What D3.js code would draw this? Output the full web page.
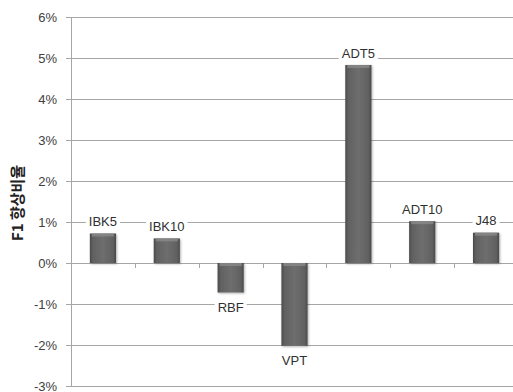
<!DOCTYPE html>
<html><head><meta charset="utf-8">
<script src="https://cdn.jsdelivr.net/npm/d3@7"></script>
<style>body{margin:0;background:#fff;}svg{display:block;}</style>
</head><body>
<svg id="c" width="513" height="392"></svg>
<script>
const categories = ["IBK5","IBK10","RBF","VPT","ADT5","ADT10","J48"];
const values = [0.72, 0.60, -0.72, -2.02, 4.83, 1.02, 0.74];
const yTicks = [-3,-2,-1,0,1,2,3,4,5,6];
const yTitle = "F1 향상비율";

const svg = d3.select("#c");
const mLeft = 71, mRight = 518, mTop = 17, mBottom = 386;
const x = d3.scaleBand().domain(categories).range([mLeft, mRight]).paddingInner(0.59).paddingOuter(0.295);
const y = d3.scaleLinear().domain([-3, 6]).range([mBottom, mTop]);
const font = "'Liberation Sans', Arial, sans-serif";

const defs = svg.append("defs");
const g1 = defs.append("linearGradient").attr("id","bar").attr("x1",0).attr("x2",1).attr("y1",0).attr("y2",0);
[[0,"#4a4a4a"],[0.12,"#616161"],[0.5,"#6e6e6e"],[0.88,"#616161"],[1,"#4a4a4a"]].forEach(([o,c])=>g1.append("stop").attr("offset",o).attr("stop-color",c));
const f = defs.append("filter").attr("id","sh").attr("x","-20%").attr("y","-20%").attr("width","140%").attr("height","140%");
f.append("feDropShadow").attr("dx",1).attr("dy",1).attr("stdDeviation",1).attr("flood-color","#000").attr("flood-opacity",0.3);

// gridlines
svg.append("g").selectAll("line").data(yTicks).join("line")
  .attr("x1", mLeft-5).attr("x2", 513).attr("y1", d=>y(d)+0.5).attr("y2", d=>y(d)+0.5)
  .attr("stroke", "#a6a6a6").attr("stroke-width", 1);

// y axis line
svg.append("line").attr("x1", mLeft+0.5).attr("x2", mLeft+0.5).attr("y1", mTop).attr("y2", mBottom)
  .attr("stroke", "#a6a6a6");

// y tick labels
svg.append("g").selectAll("text").data(yTicks).join("text")
  .attr("x", 57).attr("y", d=>y(d)).attr("dy","0.35em").attr("text-anchor","end")
  .attr("font-family", font).attr("font-size", 13).attr("fill", "#404040")
  .text(d=>d+"%");

// x tick marks on zero line
const bounds = categories.slice(1).map(c=> x(c) - x.step()*x.paddingInner()/2);
svg.append("g").selectAll("line").data(bounds).join("line")
  .attr("x1", d=>Math.round(d)+0.5).attr("x2", d=>Math.round(d)+0.5)
  .attr("y1", y(0)).attr("y2", y(0)+5).attr("stroke", "#a6a6a6");

// bars
const bars = svg.append("g").selectAll("g").data(categories).join("g");
bars.append("rect")
  .attr("x", c=>x(c)).attr("width", x.bandwidth())
  .attr("y", (c,i)=> y(Math.max(0, values[i])))
  .attr("height", (c,i)=> Math.abs(y(values[i]) - y(0)))
  .attr("fill", "url(#bar)").attr("filter","url(#sh)");
bars.append("rect")
  .attr("x", c=>x(c)+2).attr("width", x.bandwidth()-4)
  .attr("y", (c,i)=> y(Math.max(0, values[i])))
  .attr("height", 3).attr("fill", "#8a8a8a").attr("opacity", 0.8);

// data labels with white background
const labels = svg.append("g").selectAll("g").data(categories).join("g")
  .attr("transform", (c,i)=> `translate(${x(c)+x.bandwidth()/2},${values[i] >= 0 ? y(values[i]) - 12 : y(values[i]) + 15})`);
labels.append("text")
  .attr("text-anchor","middle").attr("dy","0.35em")
  .attr("font-family", font).attr("font-size", 13).attr("fill", "#303030")
  .text(c=>c)
  .each(function(){
    const b = this.getBBox();
    d3.select(this.parentNode).insert("rect","text")
      .attr("x", b.x-3).attr("y", b.y).attr("width", b.width+6).attr("height", b.height).attr("fill","#fff");
  });

// y title
svg.append("text").attr("transform", `translate(18,203) rotate(-90)`)
  .attr("text-anchor","middle").attr("dy","0.35em")
  .attr("font-family", "'Noto Sans CJK KR', sans-serif").attr("font-size", 15).attr("font-weight","bold").attr("fill","#222")
  .text(yTitle);
</script>
</body></html>
